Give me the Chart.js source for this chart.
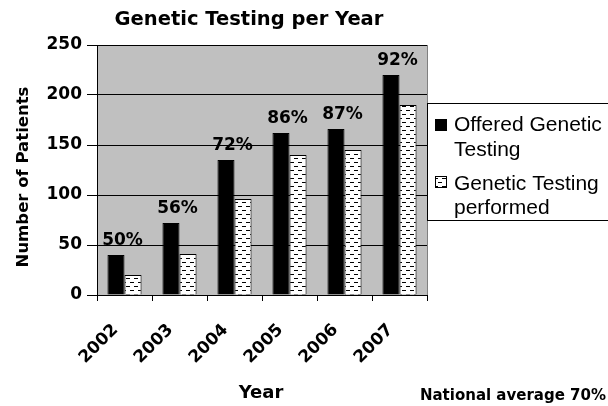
<!DOCTYPE html>
<html><head><meta charset="utf-8">
<script src="https://cdn.jsdelivr.net/npm/chart.js@4/dist/chart.umd.min.js"></script>
<style>html,body{margin:0;padding:0;background:#fff}#wrap{width:608px;height:406px}</style>
</head><body><div id="wrap"><canvas id="c" width="608" height="406"></canvas></div>
<script>
const years = ['2002', '2003', '2004', '2005', '2006', '2007'];
const offered = [40, 72, 135, 162, 166, 220];
const performed = [20, 41, 96, 140, 145, 190];
const pctLabels = ['50%', '56%', '72%', '86%', '87%', '92%'];
const yTicks = [0, 50, 100, 150, 200, 250];
const legendLines = [['Offered Genetic', 'Testing'], ['Genetic Testing', 'performed']];
const chartTitle = 'Genetic Testing per Year';
const yTitle = 'Number of Patients';
const xTitle = 'Year';
const footnote = 'National average 70%';

const BOLD = '"DejaVu Sans", sans-serif';
const REG = '"Liberation Sans", Arial, sans-serif';

function makePattern() {
  const p = document.createElement('canvas');
  p.width = 8; p.height = 8;
  const g = p.getContext('2d');
  g.fillStyle = '#fff'; g.fillRect(0, 0, 8, 8);
  g.fillStyle = '#000';
  g.fillRect(2, 2, 4, 1);
  g.fillRect(6, 6, 2, 1);
  g.fillRect(0, 6, 2, 1);
  return g.createPattern(p, 'repeat');
}
const ctx0 = document.getElementById('c').getContext('2d');
const dotted = makePattern();

const decor = {
  id: 'decor',
  beforeDraw(chart) {
    const c = chart.ctx, a = chart.chartArea;
    c.save();
    c.fillStyle = '#fff';
    c.fillRect(0, 0, chart.width, chart.height);
    c.fillStyle = '#c0c0c0';
    c.fillRect(a.left, a.top, a.right - a.left, a.bottom - a.top);
    c.restore();
  },
  afterDatasetsDraw(chart) {
    const c = chart.ctx;
    const m0 = chart.getDatasetMeta(0), m1 = chart.getDatasetMeta(1);
    c.save();
    c.font = 'bold 17px ' + BOLD;
    c.fillStyle = '#000';
    c.textAlign = 'center';
    c.textBaseline = 'alphabetic';
    pctLabels.forEach((t, i) => {
      const b0 = m0.data[i], b1 = m1.data[i];
      const cx = (b0.x + b1.x) / 2 - 2;
      c.fillText(t, cx, b0.y - 10);
    });
    c.restore();
  },
  afterDraw(chart) {
    const c = chart.ctx, a = chart.chartArea;
    c.save();
    c.strokeStyle = '#808080';
    c.lineWidth = 1;
    c.beginPath();
    c.moveTo(Math.round(a.right) + 0.5, a.top);
    c.lineTo(Math.round(a.right) + 0.5, a.bottom);
    c.stroke();
    c.fillStyle = '#000';
    c.textBaseline = 'alphabetic';
    // title
    c.font = 'bold 19.5px ' + BOLD;
    c.textAlign = 'center';
    c.fillText(chartTitle, 249, 25);
    // x title
    c.font = 'bold 18px ' + BOLD;
    c.fillText(xTitle, 261, 398);
    // footnote
    c.font = 'bold 15px ' + BOLD;
    c.textAlign = 'right';
    c.fillText(footnote, 606, 400);
    // y title
    c.save();
    c.translate(28, 177);
    c.rotate(-Math.PI / 2);
    c.font = 'bold 16.5px ' + BOLD;
    c.textAlign = 'center';
    c.fillText(yTitle, 0, 0);
    c.restore();
    // legend
    const lx = Math.round(a.right) + 0.5, ly = 103.5;
    c.fillStyle = '#fff';
    c.fillRect(lx, ly, 200, 117);
    c.strokeStyle = '#000';
    c.strokeRect(lx, ly, 200, 117);
    c.font = '21px ' + REG;
    c.textAlign = 'left';
    c.fillStyle = '#000';
    c.fillRect(435, 119, 12, 12);
    c.fillText(legendLines[0][0], 454, 131);
    c.fillText(legendLines[0][1], 454, 156);
    c.fillStyle = dotted;
    c.fillRect(435, 176, 12, 12);
    c.strokeStyle = '#000';
    c.strokeRect(435.5, 176.5, 11, 11);
    c.fillStyle = '#000';
    c.fillText(legendLines[1][0], 454, 190);
    c.fillText(legendLines[1][1], 454, 214);
    c.restore();
  }
};

new Chart(ctx0, {
  type: 'bar',
  data: {
    labels: years,
    datasets: [
      { label: legendLines[0].join(' '), data: offered, backgroundColor: '#000', borderColor: '#000', borderWidth: 1 },
      { label: legendLines[1].join(' '), data: performed, backgroundColor: dotted, borderColor: '#000', borderWidth: 1 }
    ]
  },
  options: {
    responsive: false,
    animation: false,
    devicePixelRatio: 1,
    layout: { padding: { top: 45, right: 181, left: 0, bottom: 0 } },
    datasets: { bar: { categoryPercentage: 0.62, barPercentage: 1.0 } },
    plugins: { legend: { display: false }, title: { display: false }, tooltip: { enabled: false } },
    scales: {
      x: {
        offset: true,
        grid: { display: true, drawOnChartArea: false, drawTicks: true, tickLength: 6, color: '#000', offset: true },
        border: { color: '#000' },
        ticks: { font: { family: BOLD, size: 17, weight: 'bold' }, color: '#000', minRotation: 45, maxRotation: 45, padding: 19, labelOffset: -9, autoSkip: false },
        afterFit: s => { s.height = 111; }
      },
      y: {
        min: 0, max: 250,
        afterBuildTicks: s => { s.ticks = yTicks.map(v => ({ value: v })); },
        grid: { color: '#000', tickLength: 10 },
        border: { color: '#000' },
        ticks: { font: { family: BOLD, size: 17, weight: 'bold' }, color: '#000', padding: 5 },
        afterFit: s => { s.width = 97; }
      }
    }
  },
  plugins: [decor]
});
</script>
</body></html>
